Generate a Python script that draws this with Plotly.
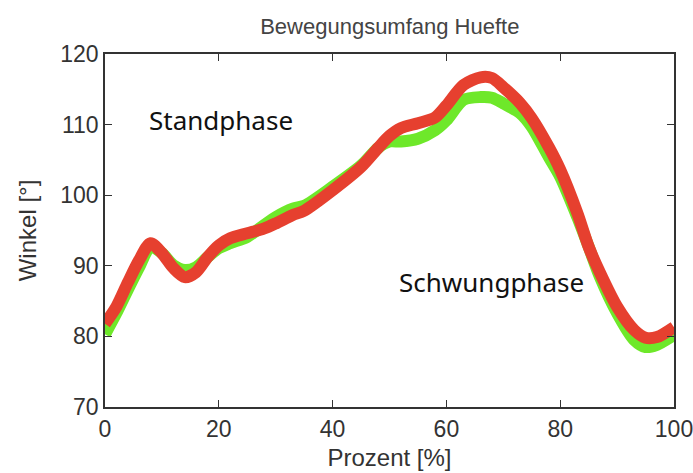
import plotly.graph_objects as go

# Data
prozent = [0, 2, 4, 6, 8, 10, 12, 14, 16, 18, 20, 22, 25, 28, 30, 33, 35, 40, 45, 48,
           50, 52, 55, 58, 60, 63, 66, 68, 70, 73, 75, 78, 80, 83, 85, 87, 90, 93, 95, 97, 100]
winkel_rot = [81.8, 84.2, 87.6, 90.8, 93.2, 91.8, 89.7, 88.4, 89.1, 91.2, 92.9, 93.9, 94.6, 95.3,
              96.0, 97.2, 97.8, 100.7, 104.0, 106.7, 108.4, 109.5, 110.2, 111.0, 112.7, 115.6,
              116.7, 116.6, 115.3, 113.0, 110.9, 106.8, 103.6, 97.5, 92.7, 89.0, 84.2, 80.9,
              79.8, 79.9, 81.3]
winkel_gruen = [80.3, 83.3, 86.6, 89.8, 92.7, 91.8, 90.1, 89.4, 89.8, 91.2, 92.5, 93.2, 94.1, 95.8,
                96.9, 98.1, 98.5, 101.2, 104.2, 106.7, 107.6, 107.6, 108.0, 109.2, 110.6, 113.5,
                113.9, 113.8, 113.0, 111.6, 109.7, 105.4, 102.6, 96.9, 92.7, 88.4, 83.3, 79.5,
                78.5, 78.8, 80.2]
x_ticks = [0, 20, 40, 60, 80, 100]
y_ticks = [70, 80, 90, 100, 110, 120]

fig = go.Figure()
fig.add_trace(go.Scatter(x=prozent, y=winkel_gruen, mode="lines",
                         line=dict(color="#6ee82a", width=12, shape="spline", smoothing=0.8),
                         showlegend=False))
fig.add_trace(go.Scatter(x=prozent, y=winkel_rot, mode="lines",
                         line=dict(color="#e6402f", width=12, shape="spline", smoothing=0.8),
                         showlegend=False))

axis_common = dict(showline=True, linecolor="#333333", linewidth=1.5, mirror="ticks",
                   ticks="inside", ticklen=7, tickwidth=1.2, tickcolor="#333333",
                   showgrid=False, zeroline=False, ticklabeloverflow="allow", automargin=False,
                   tickfont=dict(family="Liberation Sans, Arial", size=23, color="#333333"))

fig.update_xaxes(range=[0, 100], tickvals=x_ticks, ticklabelstandoff=1, **axis_common,
                 title=dict(text="Prozent [%]", standoff=8,
                            font=dict(family="Liberation Sans, Arial", size=24, color="#333333")))
fig.update_yaxes(range=[70, 120], tickvals=y_ticks, **axis_common,
                 title=dict(text="Winkel [°]", standoff=17,
                            font=dict(family="Liberation Sans, Arial", size=24, color="#333333")))

fig.add_annotation(x=7.4, y=110.7, text="Standphase", showarrow=False, xanchor="left",
                   yanchor="middle", font=dict(family="Noto Sans", size=26, color="#111111"))
fig.add_annotation(x=51.3, y=87.7, text="Schwungphase", showarrow=False, xanchor="left",
                   yanchor="middle", font=dict(family="Noto Sans", size=26, color="#111111"))

fig.update_layout(
    width=693, height=473,
    margin=dict(l=105, r=19, t=54, b=66, autoexpand=False),
    paper_bgcolor="white", plot_bgcolor="white",
    title=dict(text="Bewegungsumfang Huefte", x=0.5625, xanchor="center",
               y=1 - 26 / 473, yanchor="middle", yref="container",
               font=dict(family="Liberation Sans, Arial", size=22, color="#444444")),
)

fig.write_html("out.html")
